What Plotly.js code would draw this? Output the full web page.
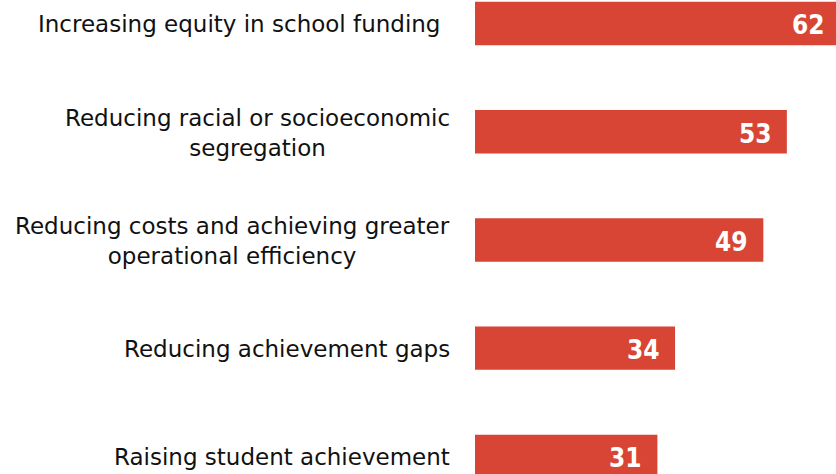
<!DOCTYPE html>
<html>
<head>
<meta charset="utf-8">
<script src="https://cdn.plot.ly/plotly-3.0.1.min.js"></script>
<style>
html, body { margin: 0; padding: 0; overflow: hidden; background: #fff; }
#chart { width: 841px; height: 474px; }
</style>
</head>
<body>
<div id="chart"></div>
<script>
// Data
var categories = [
  "Increasing equity in school funding",
  "Reducing racial or socioeconomic<br>segregation",
  "Reducing costs and achieving greater<br>operational efficiency",
  "Reducing achievement gaps",
  "Raising student achievement"
];
var values = [62, 53, 49, 34, 31];

var LABEL_FONT = "'DejaVu Sans', Tahoma, Verdana, sans-serif";
var VALUE_FONT = "'DejaVu Sans Condensed', 'DejaVu Sans', Tahoma, sans-serif";
var BAR_COLOR = "#d84535";

var trace = {
  type: "bar",
  orientation: "h",
  x: values,
  y: categories,
  width: 0.4,
  marker: { color: BAR_COLOR, line: { width: 0 } },
  hoverinfo: "x+y"
};

var annotations = [];
categories.forEach(function (c, i) {
  // category label to the left of the bar
  annotations.push({
    xref: "paper", yref: "y",
    x: 0, y: c,
    xanchor: "right", yanchor: "middle",
    xshift: i === 0 ? -33 : -23,
    yshift: -1,
    align: "center",
    showarrow: false,
    text: c,
    font: { family: LABEL_FONT, size: 23, color: "#111" }
  });
  // value label inside the bar end
  annotations.push({
    xref: "x", yref: "y",
    x: values[i], y: c,
    xanchor: "right", yanchor: "middle",
    xshift: -13, yshift: -2,
    showarrow: false,
    text: "<b>" + values[i] + "</b>",
    font: { family: VALUE_FONT, size: 26, color: "#ffffff" }
  });
});

var layout = {
  width: 841,
  height: 474,
  margin: { l: 475, r: 0, t: 0, b: 0, pad: 0 },
  paper_bgcolor: "#ffffff",
  plot_bgcolor: "#ffffff",
  showlegend: false,
  xaxis: {
    range: [0, 62.2],
    visible: false,
    showgrid: false,
    zeroline: false,
    fixedrange: true
  },
  yaxis: {
    type: "category",
    categoryorder: "array",
    categoryarray: categories,
    range: [4.162, -0.217],
    showticklabels: false,
    showgrid: false,
    zeroline: false,
    showline: false,
    ticks: "",
    fixedrange: true
  },
  annotations: annotations,
  font: { family: LABEL_FONT }
};

Plotly.newPlot("chart", [trace], layout, { displayModeBar: false, staticPlot: true });
</script>
</body>
</html>
